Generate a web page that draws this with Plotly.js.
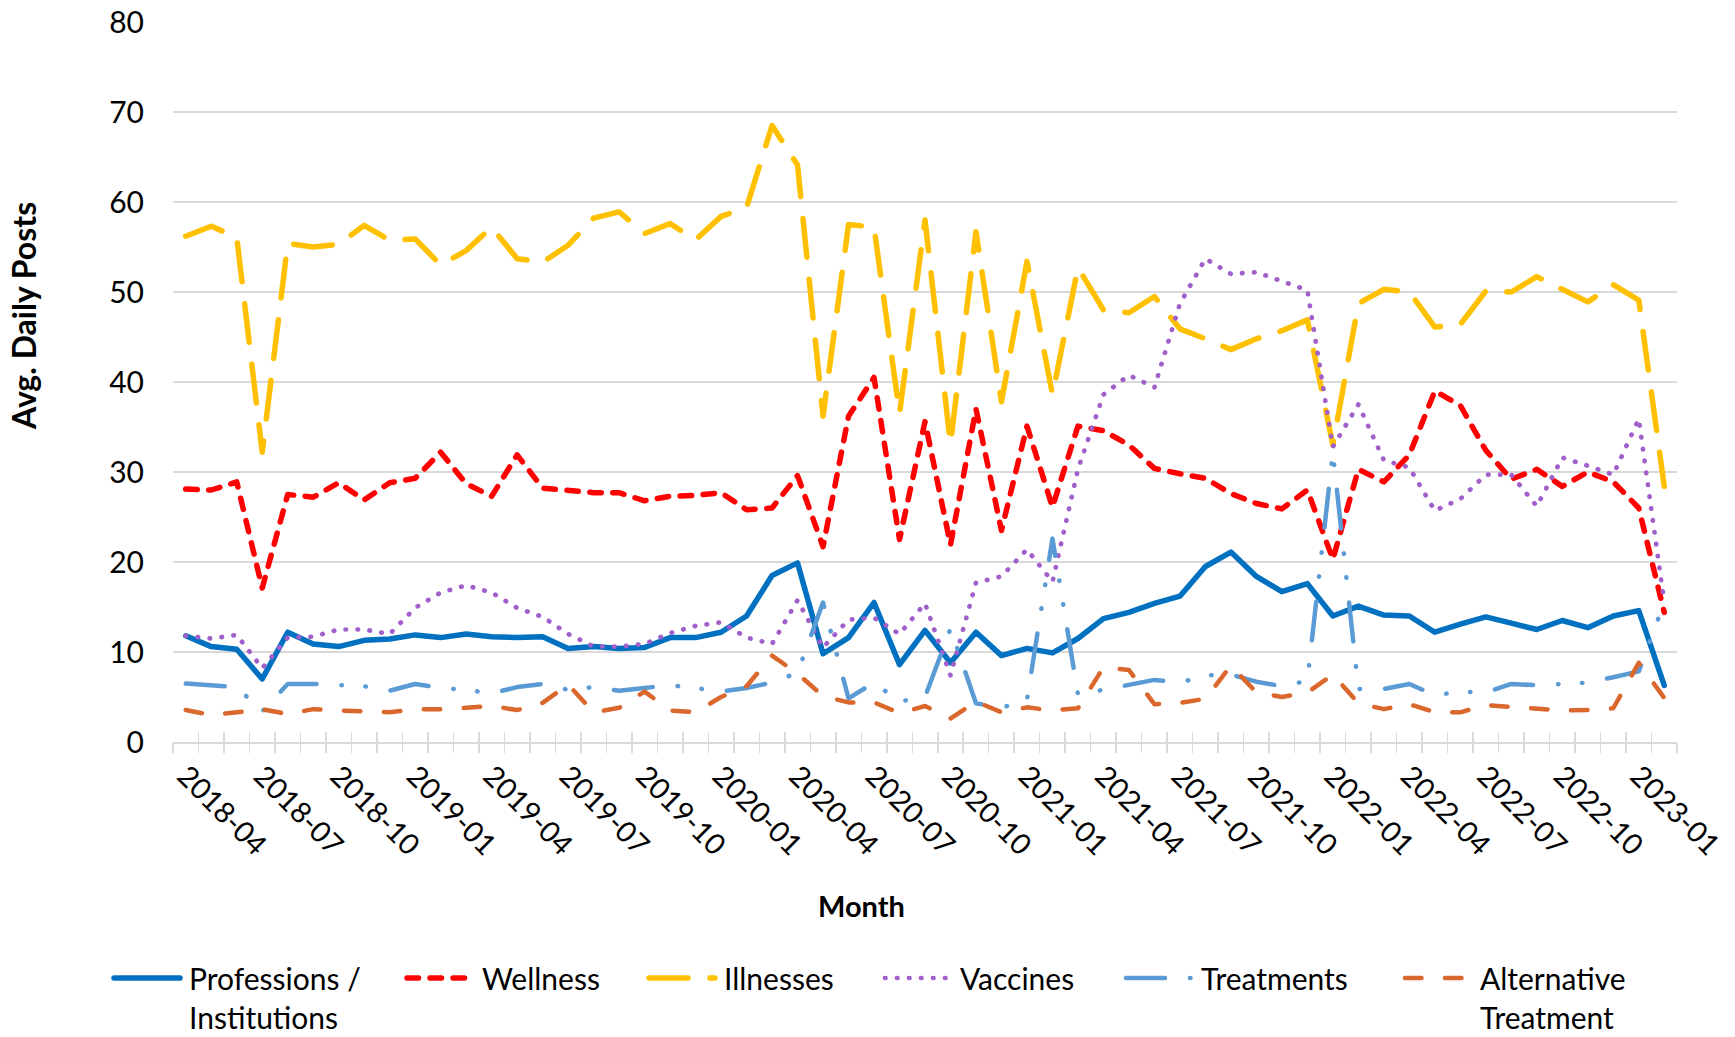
<!DOCTYPE html>
<html><head><meta charset="utf-8">
<script src="https://cdn.plot.ly/plotly-3.0.1.min.js"></script>
<style>
html,body{margin:0;padding:0;background:#fff;}
#chart{width:1735px;height:1037px;}
.scatterlayer .js-line, .legendlines path { stroke-linecap: round !important; stroke-linejoin: round !important; }
</style></head><body><div id="chart"></div>
<script>
const months = ['2018-04','2018-05','2018-06','2018-07','2018-08','2018-09','2018-10','2018-11','2018-12',
'2019-01','2019-02','2019-03','2019-04','2019-05','2019-06','2019-07','2019-08','2019-09','2019-10','2019-11','2019-12',
'2020-01','2020-02','2020-03','2020-04','2020-05','2020-06','2020-07','2020-08','2020-09','2020-10','2020-11','2020-12',
'2021-01','2021-02','2021-03','2021-04','2021-05','2021-06','2021-07','2021-08','2021-09','2021-10','2021-11','2021-12',
'2022-01','2022-02','2022-03','2022-04','2022-05','2022-06','2022-07','2022-08','2022-09','2022-10','2022-11','2022-12',
'2023-01','2023-02'];
const tickLabels = ['2018-04','2018-07','2018-10','2019-01','2019-04','2019-07','2019-10','2020-01','2020-04','2020-07',
'2020-10','2021-01','2021-04','2021-07','2021-10','2022-01','2022-04','2022-07','2022-10','2023-01'];

const professions = [11.8,10.6,10.3,7.0,12.2,10.9,10.6,11.3,11.45,11.9,11.6,12.0,11.7,11.6,11.7,10.4,10.6,10.4,10.5,11.6,11.6,
12.2,14.0,18.5,19.9,9.8,11.6,15.5,8.6,12.4,8.8,12.2,9.6,10.4,9.9,11.5,13.7,14.4,15.4,16.2,19.5,21.1,18.4,16.7,17.6,
14.0,15.1,14.1,14.0,12.2,13.1,13.9,13.2,12.5,13.5,12.7,14.0,14.6,6.3];
const wellness = [28.1,28.0,28.9,17.1,27.5,27.2,28.8,26.9,28.8,29.3,32.2,28.7,27.3,31.9,28.2,28.0,27.7,27.7,26.8,27.3,27.4,
27.7,25.8,26.0,29.6,21.7,36.2,40.5,22.5,35.6,21.9,37.0,23.5,35.1,26.1,35.1,34.6,33.0,30.4,29.8,29.3,27.6,26.5,25.9,28.0,
20.3,30.3,28.9,31.9,39.0,37.4,32.4,29.2,30.3,28.4,30.0,28.9,26.0,14.4];
const illnesses = [56.2,57.3,56.1,32.2,55.4,55.0,55.3,57.4,55.75,55.9,53.0,54.6,57.2,53.7,53.3,55.2,58.2,58.9,56.5,57.6,55.8,
58.4,59.4,68.5,64.1,36.2,57.5,57.2,36.5,58.0,33.1,56.7,37.8,53.4,38.6,52.7,48.0,47.7,49.5,45.9,44.8,43.6,44.8,45.7,46.9,
33.0,48.7,50.3,50.0,46.1,46.4,50.1,50.0,51.7,50.3,48.9,50.8,49.1,28.4];
const vaccines = [11.8,11.5,11.9,8.2,11.6,11.7,12.5,12.5,12.0,14.9,16.6,17.4,16.6,14.9,13.9,12.0,10.6,10.6,10.9,12.1,12.9,
13.3,11.6,10.9,15.75,10.5,13.6,13.8,12.0,15.4,7.4,17.7,18.4,21.4,17.8,30.3,38.6,40.75,39.4,48.7,53.7,52.0,52.2,51.2,50.2,
32.8,37.5,31.3,30.5,25.7,27.0,29.7,29.7,26.2,31.6,30.7,29.7,35.9,15.5];
const treatments = [6.5,6.3,6.1,3.4,6.45,6.45,6.3,6.2,5.7,6.45,6.0,5.8,5.4,6.1,6.45,5.8,6.1,5.7,6.0,6.3,6.0,
5.6,6.0,6.6,7.7,15.5,4.85,6.6,4.5,5.0,12.6,4.3,3.8,4.7,22.6,5.3,5.8,6.3,6.9,6.6,7.4,7.5,6.7,6.2,6.8,
32.2,5.9,5.9,6.45,5.2,5.6,5.5,6.45,6.3,6.45,6.6,7.2,7.85,15.5];
const alternative = [3.55,3.0,3.3,3.65,3.1,3.65,3.5,3.4,3.3,3.65,3.65,3.8,4.0,3.55,4.35,6.4,3.3,3.8,5.6,3.5,3.3,
5.0,6.2,9.6,7.6,5.1,4.4,4.4,3.2,4.0,2.6,4.5,3.3,3.85,3.5,3.75,8.3,8.0,4.2,4.35,4.8,8.5,5.5,5.0,5.5,
7.5,4.3,3.65,4.2,3.3,3.3,4.1,3.9,3.8,3.5,3.55,3.75,8.8,4.9];

const seriesNames = ['Professions /<br>Institutions','Wellness','Illnesses','Vaccines','Treatments','Alternative<br>Treatment'];
const seriesValues = [professions, wellness, illnesses, vaccines, treatments, alternative];

const styles = [
  {color:'#0070C0', width:5.5, dash:'solid'},
  {color:'#FF0000', width:5.5, dash:'11.5px,11.5px'},
  {color:'#FFC000', width:5.5, dash:'39px,22px'},
  {color:'#A05FCB', width:4.7, dash:'0.5px,11.5px'},
  {color:'#5B9BD5', width:4.5, dash:'39px,25px,0.5px,23.5px,0.5px,25px'},
  {color:'#DA672C', width:4.5, dash:'16.5px,23.5px'}
];
const legendX = [109, 402, 644, 880, 1121, 1400];
const W = 1735, H = 1037;
const FONT = 'Lato, "Open Sans", sans-serif';

const traces = seriesValues.map((vals, k) => ({
  type:'scatter', mode:'lines', x: months, y: vals, name: seriesNames[k],
  line:{color:styles[k].color, width:styles[k].width, dash:styles[k].dash},
  legend: k === 0 ? 'legend' : 'legend' + (k+1),
  hoverinfo:'skip'
}));
traces.push({type:'scatter', mode:'lines', x:[], y:[], xaxis:'x2', showlegend:false, hoverinfo:'skip'});
traces.push({type:'scatter', mode:'lines', x:[], y:[], xaxis:'x3', showlegend:false, hoverinfo:'skip'});

const layout = {
  width:W, height:H, autosize:false,
  paper_bgcolor:'#fff', plot_bgcolor:'#fff',
  margin:{l:173, r:58, t:22, b:295},
  font:{family:FONT, size:28, color:'#000'},
  showlegend:true,
  xaxis:{type:'category', categoryorder:'array', categoryarray:months,
    range:[-0.5, months.length-0.5], tickmode:'array', tickvals:tickLabels, ticktext:tickLabels,
    tickangle:45, ticks:'', showgrid:false, zeroline:false,
    showline:true, linecolor:'#D9D9D9', linewidth:1.5,
    tickfont:{family:FONT, size:29, color:'#000'}, ticklabelstandoff:4},
  xaxis2:{overlaying:'x', anchor:'y', side:'bottom', type:'linear', range:[-0.5, months.length-0.5],
    tickmode:'linear', tick0:-0.5, dtick:1, ticks:'outside', ticklen:10, tickwidth:1.5, tickcolor:'#D9D9D9',
    showticklabels:false, showgrid:false, zeroline:false, showline:false},
  xaxis3:{overlaying:'x', anchor:'y', side:'bottom', type:'linear', range:[-0.5, months.length-0.5],
    tickmode:'linear', tick0:-0.5, dtick:1, ticks:'inside', ticklen:10, tickwidth:1.5, tickcolor:'#D9D9D9',
    showticklabels:false, showgrid:false, zeroline:false, showline:false},
  yaxis:{range:[0,80], dtick:10, tick0:0, showgrid:true, gridcolor:'#D9D9D9', gridwidth:1.5,
    zeroline:false, showline:false, ticks:'', ticklabelstandoff:28,
    tickfont:{family:FONT, size:30, color:'#000'}},
  annotations:[
    {text:'<b>Avg. Daily Posts</b>', xref:'paper', yref:'paper', x:(23-173)/1504, y:(742-316)/720,
     showarrow:false, textangle:-90, font:{family:FONT, size:32, color:'#000'}, xanchor:'center', yanchor:'middle'},
    {text:'<b>Month</b>', xref:'paper', yref:'paper', x:(861-173)/1504, y:(742-905)/720,
     showarrow:false, font:{family:FONT, size:29, color:'#000'}, xanchor:'center', yanchor:'middle'}
  ]
};
seriesNames.forEach((n, k) => {
  const key = k === 0 ? 'legend' : 'legend' + (k+1);
  layout[key] = {xref:'container', yref:'container', x:legendX[k]/W, y:1-952/H,
    xanchor:'left', yanchor:'top', orientation:'h', bgcolor:'rgba(0,0,0,0)', borderwidth:0,
    font:{family:FONT, size:30, color:'#000'}, itemwidth:70, valign:'top',
    itemclick:false, itemdoubleclick:false};
});

Plotly.newPlot('chart', traces, layout, {staticPlot:true, displayModeBar:false}).then(() => {
  document.querySelectorAll('.legendlines path').forEach(p => p.setAttribute('d', 'M5,0h66'));
});
</script></body></html>
